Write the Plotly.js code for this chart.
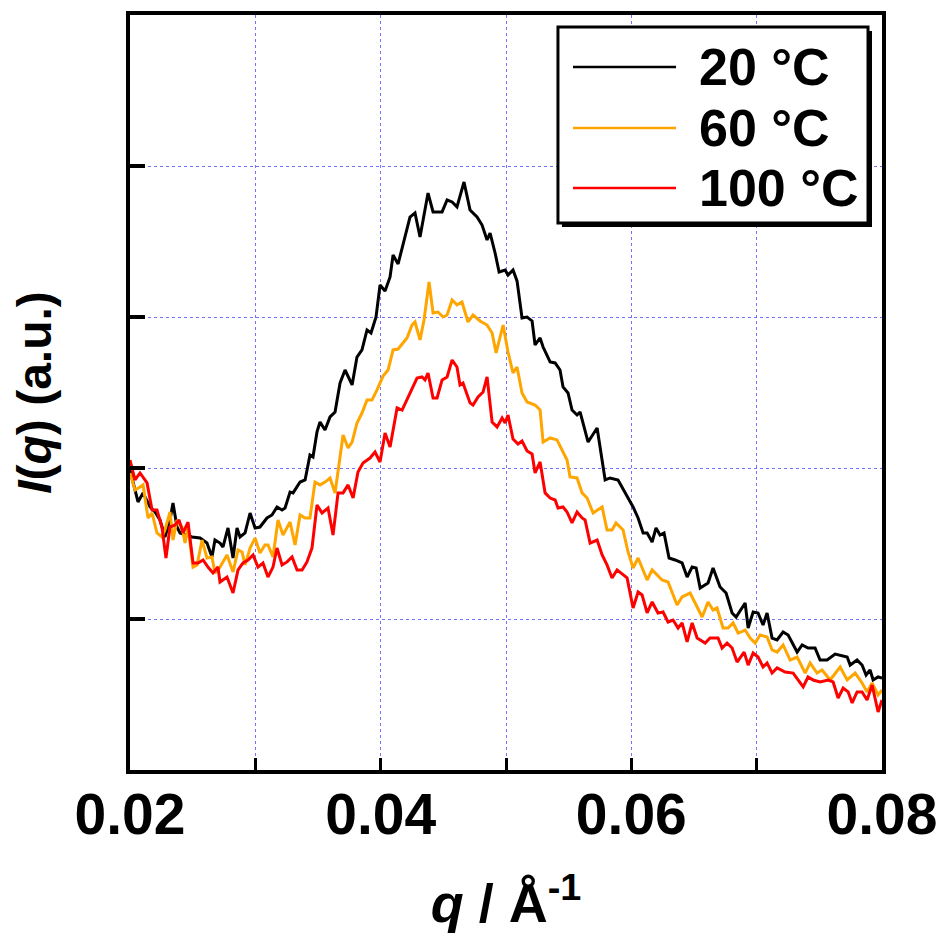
<!DOCTYPE html>
<html>
<head>
<meta charset="utf-8">
<script src="https://cdn.plot.ly/plotly-3.0.1.min.js"></script>
<style>html,body{margin:0;padding:0;background:#fff;}</style>
</head>
<body>
<div id="chart" style="width:937px;height:936px;"></div>
<script>
// ---- data ----
const seriesNames = ['20 °C', '60 °C', '100 °C'];
const seriesColors = ['#000000', '#FFA500', '#FF0000'];

const q20 = [0.02000,0.02032,0.02064,0.02104,0.02160,0.02200,0.02239,0.02279,0.02319,0.02343,
0.02375,0.02399,0.02455,0.02495,0.02559,0.02614,0.02654,0.02678,0.02718,0.02742,
0.02782,0.02822,0.02854,0.02878,0.02918,0.02958,0.02998,0.03037,0.03093,0.03133,
0.03173,0.03213,0.03237,0.03277,0.03301,0.03357,0.03397,0.03436,0.03460,0.03492,
0.03516,0.03556,0.03596,0.03636,0.03676,0.03716,0.03772,0.03811,0.03851,0.03891,
0.03923,0.03963,0.03995,0.04035,0.04075,0.04099,0.04139,0.04179,0.04234,0.04274,
0.04314,0.04378,0.04418,0.04490,0.04530,0.04570,0.04609,0.04665,0.04713,0.04769,
0.04809,0.04849,0.04873,0.04913,0.04945,0.04993,0.05016,0.05056,0.05088,0.05128,
0.05168,0.05208,0.05232,0.05272,0.05296,0.05352,0.05392,0.05431,0.05455,0.05495,
0.05527,0.05567,0.05591,0.05655,0.05727,0.05791,0.05830,0.05894,0.05950,0.06014,
0.06054,0.06094,0.06126,0.06166,0.06197,0.06229,0.06261,0.06301,0.06349,0.06405,
0.06445,0.06485,0.06517,0.06549,0.06612,0.06652,0.06708,0.06756,0.06804,0.06836,
0.06908,0.06932,0.06972,0.07011,0.07051,0.07083,0.07123,0.07163,0.07211,0.07251,
0.07323,0.07363,0.07410,0.07466,0.07506,0.07562,0.07626,0.07722,0.07746,0.07801,
0.07841,0.07873,0.07905,0.07929,0.07969,0.08000];
const i20 = [1.987,1.888,1.775,1.835,1.742,1.709,1.656,1.543,1.656,1.768,
1.609,1.570,1.556,1.543,1.536,1.503,1.411,1.523,1.503,1.477,
1.603,1.404,1.603,1.543,1.570,1.702,1.603,1.609,1.669,1.689,
1.742,1.722,1.735,1.841,1.835,1.907,1.921,2.086,2.073,2.239,
2.305,2.252,2.338,2.371,2.563,2.649,2.550,2.735,2.782,2.914,
2.894,3.000,3.212,3.172,3.265,3.411,3.351,3.477,3.662,3.689,
3.530,3.821,3.696,3.696,3.775,3.762,3.729,3.894,3.709,3.662,
3.609,3.510,3.556,3.424,3.298,3.311,3.278,3.311,3.239,2.994,
3.000,2.974,2.815,2.861,2.801,2.702,2.696,2.649,2.537,2.497,
2.384,2.351,2.371,2.172,2.265,1.921,1.934,1.921,1.841,1.742,
1.669,1.570,1.570,1.510,1.603,1.556,1.570,1.404,1.391,1.371,
1.278,1.344,1.338,1.205,1.238,1.338,1.212,1.172,1.040,1.013,
1.106,0.940,1.046,1.040,0.960,1.040,0.874,0.861,0.914,0.894,
0.781,0.828,0.808,0.808,0.728,0.728,0.768,0.748,0.695,0.728,
0.695,0.629,0.662,0.596,0.616,0.609];

const q60 = [0.02000,0.02040,0.02080,0.02104,0.02144,0.02176,0.02215,0.02255,0.02279,0.02319,
0.02343,0.02375,0.02415,0.02439,0.02463,0.02503,0.02535,0.02575,0.02614,0.02654,
0.02678,0.02718,0.02774,0.02822,0.02862,0.02894,0.02918,0.02958,0.02998,0.03037,
0.03077,0.03101,0.03141,0.03181,0.03221,0.03277,0.03317,0.03357,0.03397,0.03436,
0.03476,0.03516,0.03556,0.03596,0.03636,0.03676,0.03700,0.03740,0.03772,0.03811,
0.03851,0.03891,0.03931,0.03971,0.04019,0.04059,0.04099,0.04139,0.04210,0.04250,
0.04274,0.04314,0.04346,0.04386,0.04418,0.04458,0.04498,0.04530,0.04570,0.04609,
0.04649,0.04697,0.04737,0.04793,0.04849,0.04889,0.04921,0.04977,0.05016,0.05056,
0.05088,0.05128,0.05168,0.05232,0.05272,0.05296,0.05352,0.05407,0.05447,0.05487,
0.05511,0.05567,0.05607,0.05647,0.05695,0.05767,0.05806,0.05846,0.05878,0.05934,
0.05974,0.06014,0.06054,0.06126,0.06166,0.06245,0.06293,0.06365,0.06405,0.06469,
0.06509,0.06565,0.06612,0.06652,0.06684,0.06732,0.06772,0.06812,0.06852,0.06908,
0.06948,0.06988,0.07027,0.07083,0.07123,0.07163,0.07211,0.07267,0.07323,0.07387,
0.07426,0.07482,0.07522,0.07586,0.07666,0.07722,0.07786,0.07841,0.07881,0.07921,
0.07969,0.08000];
const i60 = [1.967,1.854,1.874,1.888,1.669,1.702,1.570,1.543,1.589,1.709,
1.523,1.656,1.609,1.503,1.609,1.344,1.358,1.523,1.404,1.411,
1.305,1.344,1.424,1.311,1.457,1.444,1.358,1.470,1.536,1.437,
1.490,1.490,1.411,1.656,1.556,1.642,1.490,1.689,1.669,1.669,
1.907,1.888,1.907,1.934,1.835,2.086,2.219,2.133,2.172,2.298,
2.364,2.451,2.451,2.517,2.609,2.649,2.782,2.788,2.861,2.947,
2.967,2.848,2.980,3.232,3.027,3.033,3.000,3.013,3.113,3.080,
3.099,2.967,3.013,2.974,2.947,2.894,2.762,2.947,2.768,2.629,
2.669,2.497,2.437,2.417,2.384,2.172,2.199,2.186,2.119,2.053,
1.941,1.934,1.835,1.801,1.702,1.742,1.589,1.589,1.636,1.589,
1.444,1.338,1.404,1.258,1.325,1.258,1.245,1.093,1.146,1.172,
1.106,1.013,1.113,1.060,1.073,0.940,0.940,0.974,0.907,0.927,
0.874,0.841,0.894,0.881,0.795,0.781,0.828,0.728,0.748,0.642,
0.709,0.642,0.662,0.596,0.682,0.596,0.642,0.576,0.517,0.576,
0.497,0.530];

const q100 = [0.02000,0.02040,0.02080,0.02136,0.02176,0.02215,0.02255,0.02287,0.02319,0.02359,
0.02391,0.02423,0.02463,0.02503,0.02543,0.02583,0.02622,0.02662,0.02702,0.02718,
0.02774,0.02822,0.02862,0.02902,0.02942,0.02982,0.03021,0.03061,0.03101,0.03141,
0.03173,0.03213,0.03253,0.03293,0.03333,0.03373,0.03412,0.03452,0.03492,0.03532,
0.03580,0.03620,0.03660,0.03700,0.03740,0.03780,0.03819,0.03859,0.03915,0.03955,
0.03995,0.04035,0.04075,0.04131,0.04171,0.04210,0.04250,0.04290,0.04330,0.04354,
0.04378,0.04418,0.04450,0.04490,0.04530,0.04570,0.04609,0.04633,0.04657,0.04713,
0.04737,0.04777,0.04817,0.04849,0.04889,0.04929,0.04969,0.04993,0.05016,0.05056,
0.05096,0.05128,0.05168,0.05208,0.05232,0.05272,0.05312,0.05352,0.05392,0.05415,
0.05455,0.05487,0.05527,0.05567,0.05607,0.05631,0.05671,0.05727,0.05767,0.05806,
0.05846,0.05886,0.05966,0.06014,0.06054,0.06086,0.06126,0.06166,0.06213,0.06253,
0.06293,0.06333,0.06373,0.06405,0.06445,0.06485,0.06525,0.06589,0.06628,0.06692,
0.06724,0.06764,0.06804,0.06844,0.06900,0.06932,0.06972,0.07011,0.07051,0.07083,
0.07123,0.07163,0.07227,0.07291,0.07371,0.07410,0.07450,0.07506,0.07570,0.07610,
0.07650,0.07690,0.07730,0.07762,0.07801,0.07841,0.07881,0.07921,0.07969,0.08000];
const i100 = [2.053,1.921,1.967,1.901,1.722,1.722,1.609,1.404,1.609,1.623,
1.656,1.570,1.642,1.371,1.371,1.391,1.344,1.305,1.344,1.245,
1.278,1.172,1.325,1.371,1.391,1.424,1.344,1.371,1.278,1.344,
1.470,1.358,1.378,1.411,1.325,1.325,1.378,1.470,1.755,1.702,
1.735,1.556,1.835,1.835,1.888,1.801,1.974,2.033,2.066,2.106,
2.040,2.232,2.139,2.398,2.384,2.451,2.517,2.596,2.603,2.583,
2.629,2.464,2.464,2.583,2.603,2.715,2.669,2.550,2.563,2.431,
2.417,2.470,2.503,2.603,2.305,2.272,2.331,2.298,2.351,2.192,
2.159,2.179,2.113,2.093,1.967,2.040,1.835,1.801,1.788,1.735,
1.742,1.709,1.636,1.709,1.669,1.656,1.503,1.523,1.424,1.358,
1.272,1.325,1.272,1.073,1.179,1.159,1.040,1.113,1.040,1.046,
0.980,0.993,0.940,0.974,0.848,0.974,0.874,0.841,0.874,0.874,
0.808,0.841,0.808,0.715,0.781,0.695,0.775,0.748,0.682,0.709,
0.642,0.676,0.649,0.642,0.550,0.616,0.596,0.583,0.596,0.583,
0.477,0.543,0.517,0.444,0.517,0.517,0.464,0.563,0.384,0.464];

const xTickVals = [0.02, 0.04, 0.06, 0.08];
const xTickText = ['0.02', '0.04', '0.06', '0.08'];
const xMinorVals = [0.03, 0.05, 0.07];
const yTickVals = [1, 2, 3, 4];

// ---- chart ----
const sans = '"Liberation Sans", Arial, sans-serif';
const xs = [q20, q60, q100];
const ys = [i20, i60, i100];

const traces = xs.map((x, k) => ({
  type: 'scatter', mode: 'lines', x: x, y: ys[k], name: seriesNames[k],
  line: {color: seriesColors[k], width: 3}, showlegend: false
}));

// manual legend (box with shadow, long line samples, big bold labels)
const legX0 = 0.5691, legX1 = 0.9814, legY0 = 0.7245, legY1 = 0.9841;
const legRowY = [0.9311, 0.8503, 0.7709];
const shapes = [
  {type:'rect', xref:'paper', yref:'paper', x0:legX0+0.0053, x1:legX1+0.0053, y0:legY0-0.0053, y1:legY1-0.0053,
   fillcolor:'black', line:{width:0}},
  {type:'rect', xref:'paper', yref:'paper', x0:legX0, x1:legX1, y0:legY0, y1:legY1,
   fillcolor:'white', line:{color:'black', width:3}}
];
const annotations = [];
seriesNames.forEach((nm, k) => {
  shapes.push({type:'line', xref:'paper', yref:'paper', x0:0.5891, x1:0.7261, y0:legRowY[k], y1:legRowY[k],
    line:{color:seriesColors[k], width:2.6}});
  annotations.push({xref:'paper', yref:'paper', x:0.7545, y:legRowY[k], xanchor:'left', yanchor:'middle',
    text:'<b>' + nm + '</b>', showarrow:false, font:{family:sans, size:52, color:'black'}});
});

const gridStyle = {gridcolor: 'rgba(80,80,255,0.8)', griddash: 'dot', gridwidth: 1};

const layout = {
  width: 937, height: 936,
  margin: {l:130, r:55, t:15, b:166},
  paper_bgcolor: 'white', plot_bgcolor: 'white',
  showlegend: false,
  xaxis: Object.assign({
    range: [0.02, 0.08], tickmode: 'array', tickvals: xTickVals, ticktext: xTickText,
    ticks: 'inside', ticklen: 12, tickwidth: 3, tickcolor: 'black',
    showline: true, linewidth: 4, linecolor: 'black', mirror: true,
    showgrid: true, zeroline: false, ticklabeloverflow: 'allow', ticklabelstandoff: -8,
    minor: Object.assign({tickmode: 'array', tickvals: xMinorVals, ticks: 'inside', ticklen: 12,
      tickwidth: 3, tickcolor: 'black', showgrid: true}, gridStyle),
    tickfont: {family: sans, size: 57, color: 'black', weight: 'bold'},
    title: {text: '<b><i>q</i> / Å<sup>-1</sup></b>', font: {family: sans, size: 54, color: 'black'}, standoff: 40}
  }, gridStyle),
  yaxis: Object.assign({
    range: [0, 5], tickmode: 'array', tickvals: yTickVals, showticklabels: false,
    ticks: 'inside', ticklen: 15, tickwidth: 4, tickcolor: 'black',
    showline: true, linewidth: 4, linecolor: 'black', mirror: true,
    showgrid: true, zeroline: false,
    title: {text: '<b><i>I</i>(<i>q</i>) (a.u.)</b>', font: {family: sans, size: 48, color: 'black'}, standoff: 60}
  }, gridStyle),
  shapes: shapes,
  annotations: annotations
};

Plotly.newPlot('chart', traces, layout, {displayModeBar: false, staticPlot: true});
</script>
</body>
</html>
